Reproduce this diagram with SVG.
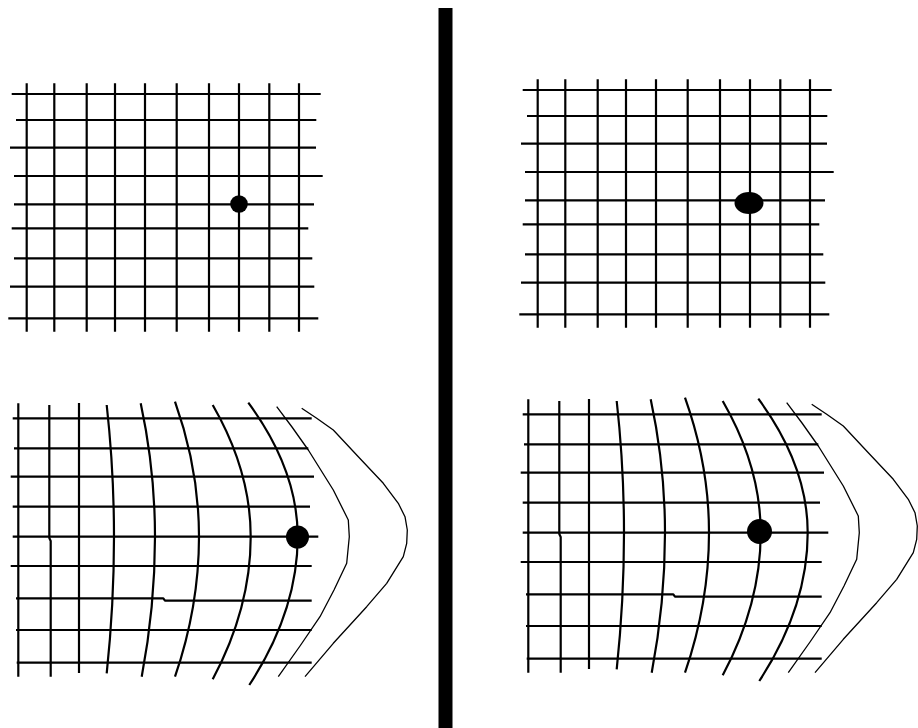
<svg xmlns="http://www.w3.org/2000/svg" xmlns:xlink="http://www.w3.org/1999/xlink" width="918" height="728" viewBox="0 0 918 728">
<style>
.g{stroke:#000;stroke-width:2.2;fill:none;stroke-linejoin:round}
.t{stroke:#000;stroke-width:1.3;fill:none;stroke-linejoin:round}
.d{fill:#000}
</style>
<defs>
<g id="gridTop">
<path class="g" d="M11.7,94H320.7M16,120H316.3M10,147.7H316M14,176H322.7M14,204.3H314M11.7,228.3H308.3M14,258.3H312.3M10,286.7H314.3M8.3,318.3H318.3"/>
<path class="g" d="M26.7,83.3V331.7M54.3,83.3V331.7M86.7,83.3V331.7M115,83.3V331.7M145,83.3V331.7M176.7,83.3V331.7M209,83.3V331.7M239,83.3V331.7M269.3,83.3V331.7M299,83.3V331.7"/>
</g>
<g id="gridBottom">
<path class="g" d="M12.7,418.3H311.7M14,448.3H308.3M10.7,476.7H314M12.7,506.7H310M12.7,536.7H318.3M10.7,566H311.7M16,598.3H163.3L165,600.7H311.7M16,630H311.7M16.7,662.7H311.7"/>
<path class="g" d="M18.3,403.3V676.7M49.3,405V538L50.7,541V676.7M79,403V673"/>
<path class="g" d="M106.7,405Q114,470.8 114,536.7Q114,605 106.7,673.3"/>
<path class="g" d="M140.7,403.3Q155,470 155,536.7Q155,606.7 141.7,676.7"/>
<path class="g" d="M175,401.7Q199,469.2 199,536.7Q199,606.7 175,676.7"/>
<path class="g" d="M212.7,405Q250.7,470.8 250.7,536.7Q250.7,608 212.7,679.3"/>
<path class="g" d="M248.3,402.7Q297.7,469.7 297.7,536.7Q297.7,610.8 249.3,685"/>
<polyline class="t" points="276.7,406.7 292,427 308.3,450 333.3,490 348.3,520 349.3,536.7 346.7,563.3 334,590 320,616.7 300,646 278.3,676.7"/>
<polyline class="t" points="301.7,408.3 316.7,418.3 333.3,430 358.3,456.7 383.3,483.3 398.3,503.3 405,516.7 407.3,530 406.7,543.3 403.3,556.7 386.7,583.3 366.7,606.7 333.3,643.3 305,676.7"/>
</g>
</defs>
<rect width="918" height="728" fill="#fff"/>
<rect id="divider" x="438.5" y="8" width="14" height="720" fill="#000"/>
<g id="top-left">
<use xlink:href="#gridTop"/>
<circle class="d" cx="239" cy="204" r="8.8"/>
</g>
<g id="top-right">
<use xlink:href="#gridTop" transform="translate(511,-4)"/>
<ellipse class="d" cx="749" cy="203" rx="14.5" ry="11"/>
</g>
<g id="bottom-left">
<use xlink:href="#gridBottom"/>
<circle class="d" cx="297.5" cy="537" r="11.5"/>
</g>
<g id="bottom-right">
<use xlink:href="#gridBottom" transform="translate(510,-4)"/>
<circle class="d" cx="759.5" cy="531.5" r="12.5"/>
</g>
</svg>
